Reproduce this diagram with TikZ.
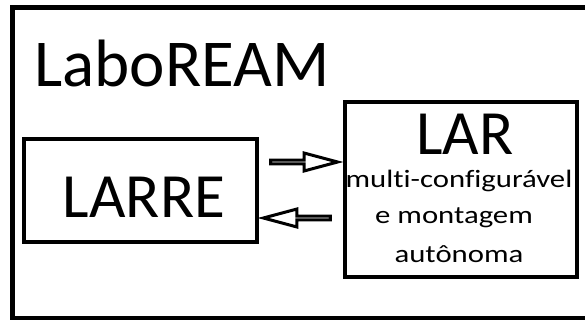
\documentclass[tikz,border=0pt]{standalone}
\usepackage{fontspec}
\setmainfont[Ligatures=NoCommon]{Carlito}
\usetikzlibrary{shapes.arrows,positioning,calc}

\tikzset{
    labbox/.style={draw, line width=4pt, inner sep=0pt},
    bigtxt/.style={anchor=base, font=\fontsize{63}{66}\selectfont},
    smalltxt/.style={anchor=base, font=\fontsize{25}{27}\selectfont},
    blockarrow/.style={single arrow, draw, line width=3pt, fill=white,
        minimum height=67pt, minimum width=18pt, single arrow head extend=5.5pt,
        single arrow tip angle=30, inner sep=0pt}
}
\newcommand{\widetxt}[1]{\scalebox{1.23}[1]{#1}}

\begin{document}
\begin{tikzpicture}[x=1pt,y=-1pt]
    \useasboundingbox (0,0) rectangle (585,320);
    % outer frame, runs off the page on the right
    \draw[line width=5pt] (590,7.5) -- (12.5,7.5) -- (12.5,318.5) -- (590,318.5);
    \node[anchor=base west, font=\fontsize{67}{70}\selectfont] (labo) at (31,87) {LaboREAM};

    % the two labs
    \node[labbox, minimum width=233pt, minimum height=103pt] (larre) at (140.5,190.5) {};
    \node[bigtxt] (larretxt) at (144,217) {LARRE};

    \node[labbox, minimum width=232pt, minimum height=175pt] (lar) at (461,189.5) {};
    \node[bigtxt] (lartxt) at (465,155) {LAR};
    \node[smalltxt] (l1) at (459,188) {\widetxt{multi-configurável}};
    \node[smalltxt] (l2) at (454,223) {\widetxt{e montagem}};
    \node[smalltxt] (l3) at (459,262) {\widetxt{autônoma}};

    % exchange between LARRE and LAR
    \node[blockarrow] (toLar) at (300.5,162) {};
    \node[blockarrow, shape border rotate=180] (toLarre) at (300.5,218) {};
\end{tikzpicture}
\end{document}
